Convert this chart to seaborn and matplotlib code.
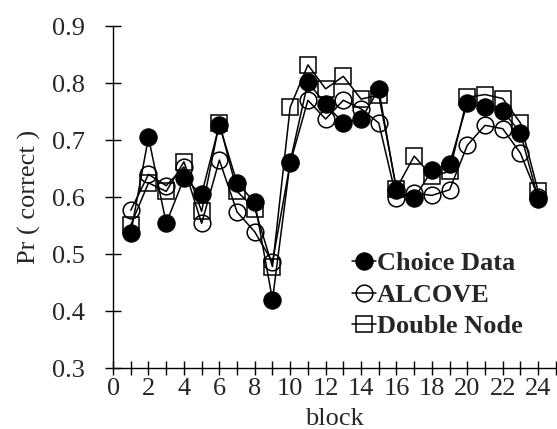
import numpy as np
import pandas as pd
import matplotlib
matplotlib.use("Agg")
import matplotlib.pyplot as plt
import seaborn as sns

# block numbers and the three series
blocks = list(range(1, 25))
choice_data = [0.537, 0.705, 0.554, 0.633, 0.605, 0.727, 0.625, 0.591, 0.420, 0.662,
               0.802, 0.763, 0.730, 0.737, 0.789, 0.612, 0.598, 0.647, 0.658, 0.765,
               0.758, 0.751, 0.713, 0.597]
alcove = [0.577, 0.640, 0.620, 0.653, 0.554, 0.665, 0.574, 0.539, 0.486, 0.660,
          0.770, 0.737, 0.770, 0.755, 0.730, 0.598, 0.607, 0.603, 0.613, 0.691,
          0.726, 0.720, 0.677, 0.600]
double_node = [0.551, 0.625, 0.610, 0.662, 0.575, 0.730, 0.610, 0.580, 0.478, 0.758,
               0.832, 0.790, 0.812, 0.772, 0.779, 0.615, 0.672, 0.637, 0.645, 0.775,
               0.780, 0.773, 0.730, 0.610]

df = pd.DataFrame({"block": blocks, "Choice Data": choice_data,
                   "ALCOVE": alcove, "Double Node": double_node})

sns.set_style("ticks")
plt.rcParams["font.family"] = ["Liberation Serif", "DejaVu Serif"]

fig = plt.figure(figsize=(5.57, 4.29), dpi=100)
ax = fig.add_axes([0.203, 0.142, 0.795, 0.797])

# draw models first so the data points sit on top
sns.lineplot(data=df, x="block", y="Double Node", ax=ax, color="black", lw=1.1,
             marker="s", markersize=12, markerfacecolor="none",
             markeredgecolor="black", markeredgewidth=1.1, label="Double Node")
sns.lineplot(data=df, x="block", y="ALCOVE", ax=ax, color="black", lw=1.1,
             marker="o", markersize=12, markerfacecolor="none",
             markeredgecolor="black", markeredgewidth=1.1, label="ALCOVE")
sns.lineplot(data=df, x="block", y="Choice Data", ax=ax, color="black", lw=1.1,
             marker="o", markersize=12.5, markerfacecolor="black",
             markeredgecolor="black", label="Choice Data")

ax.set_xlim(0, 25)
ax.set_ylim(0.3, 0.9)
ax.set_xticks(range(0, 25, 2))
ax.set_xticks(range(0, 26), minor=True)
ax.set_yticks(np.arange(0.3, 0.91, 0.1))
ax.set_yticklabels([f"{v:.1f}" for v in np.arange(0.3, 0.91, 0.1)])
ax.tick_params(axis="both", which="both", direction="inout", color="black",
               labelsize=19, width=1)
ax.tick_params(axis="y", which="major", length=12, pad=14)
ax.tick_params(axis="x", which="major", length=10, pad=2)
ax.tick_params(axis="x", which="minor", length=10)
sns.despine(ax=ax)
for s in ["left", "bottom"]:
    ax.spines[s].set_color("black")
    ax.spines[s].set_linewidth(1)

ax.set_xlabel("block", fontsize=19, labelpad=6)
ax.set_ylabel("Pr ( correct )", fontsize=19, labelpad=8)

handles, labels = ax.get_legend_handles_labels()
order = [2, 1, 0]
ax.legend([handles[i] for i in order], [labels[i] for i in order],
          loc="upper left", bbox_to_anchor=(352 / 557, 1 - 252 / 429),
          bbox_transform=fig.transFigure, frameon=False,
          handlelength=0.9, handletextpad=0.05, labelspacing=0.3,
          borderaxespad=0, borderpad=0,
          prop={"weight": "bold", "size": 19})

plt.savefig("out.png", dpi=100)
